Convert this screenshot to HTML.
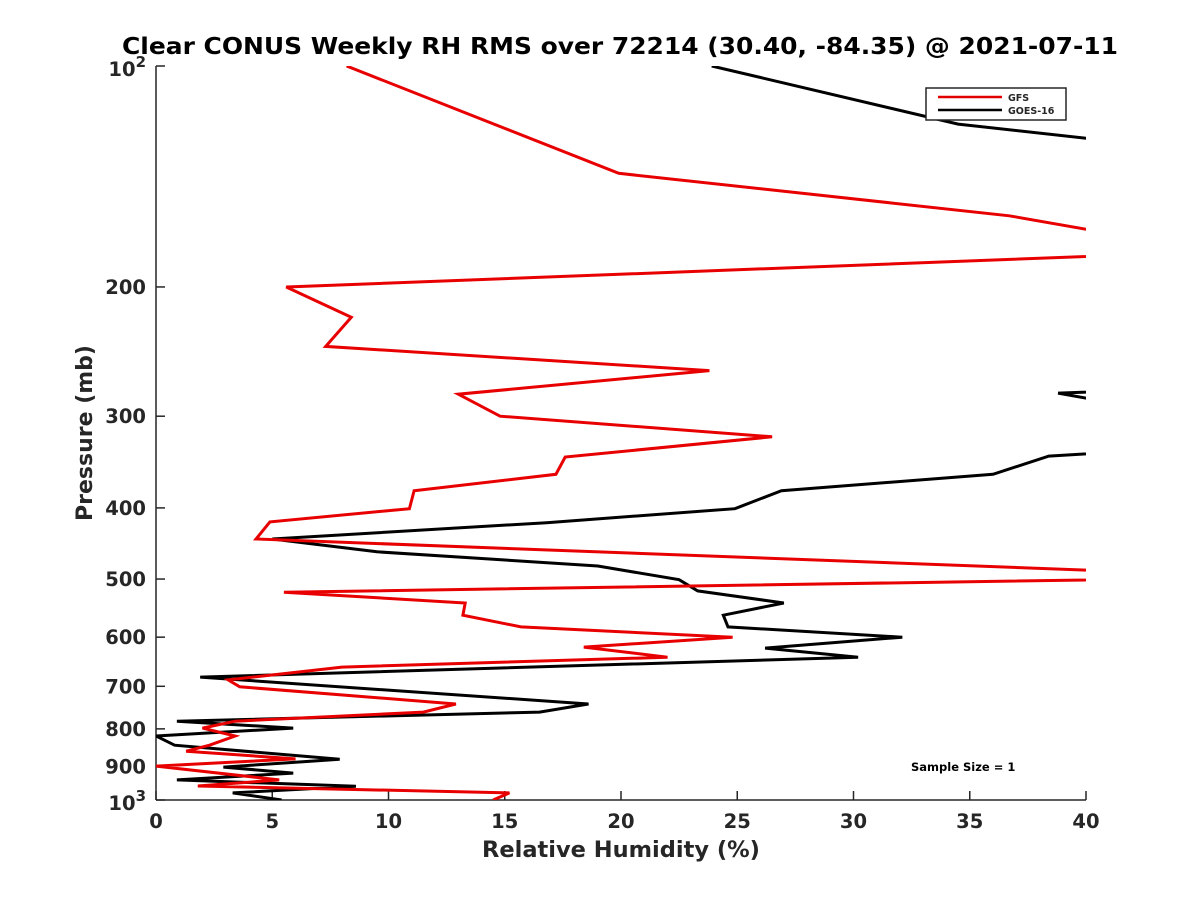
<!DOCTYPE html>
<html><head><meta charset="utf-8"><style>
body{margin:0;background:#fff;}
svg{display:block;font-family:"DejaVu Sans","Liberation Sans",sans-serif;font-weight:bold;}
</style></head><body>
<svg id="chart" width="1200" height="900" viewBox="0 0 1200 900">
<rect width="1200" height="900" fill="#fff"/>
<defs><clipPath id="clip"><rect x="156" y="66" width="930" height="734"/></clipPath></defs>
<text x="122" y="54" font-size="23" textLength="996" lengthAdjust="spacingAndGlyphs" fill="#000">Clear CONUS Weekly RH RMS over 72214 (30.40, -84.35) @ 2021-07-11</text>
<g id="axes"></g>
<g id="series" clip-path="url(#clip)"></g>
<text x="621" y="857" font-size="22.5" text-anchor="middle" fill="#262626">Relative Humidity (%)</text>
<text transform="translate(92,433) rotate(-90)" font-size="22" text-anchor="middle" fill="#262626">Pressure (mb)</text>
<g>
<rect x="926" y="88" width="140" height="32" fill="#fff" stroke="#262626" stroke-width="1.5"/>
<line x1="938" y1="97" x2="1002" y2="97" stroke="#e00000" stroke-width="2.5"/>
<text x="1008" y="101" font-size="9.5" fill="#262626">GFS</text>
<line x1="938" y1="110" x2="1002" y2="110" stroke="#000" stroke-width="2.5"/>
<text x="1008" y="114" font-size="9.5" fill="#262626">GOES-16</text>
</g>
<text x="911" y="771" font-size="11.5" fill="#000">Sample Size = 1</text>
</svg>
<script>
const xTicks=[0,5,10,15,20,25,30,35,40];
const yTicks=[100,200,300,400,500,600,700,800,900,1000];
const yTickLabels=["10|2","200","300","400","500","600","700","800","900","10|3"];
const gfsRH=[8.2,19.9,36.7,45.5,5.6,8.4,7.3,23.8,13.0,14.8,26.5,17.6,17.2,11.1,10.9,4.9,4.3,48,5.5,13.3,13.2,15.7,24.8,18.4,22.0,8.0,3.1,3.6,12.9,11.5,3.4,2.0,3.4,2.3,1.3,6.0,0,5.3,1.8,15.2,14.5];
const gfsP=[100,140,160,179,200,220,241,260,280,300,320,341,360,379,401,418,441,497,521,539,560,581,600,619,639,659,686,701,740,759,781,798,818,842,858,879,899,939,957,978,1000];
const goesRH=[23.9,34.5,50,50,38.8,50,38.4,36.0,26.9,24.9,16.8,5.0,9.5,19.0,22.5,23.3,27.0,24.4,24.6,32.1,26.2,30.2,1.9,18.6,16.5,0.9,5.9,0,0.8,7.9,2.9,5.9,0.9,8.6,3.3,5.4];
const goesP=[100,120,136,271,279,323,340,360,379,401,419,441,459,480,501,519,539,560,581,600,621,639,680,740,759,781,798,818,842,880,902,919,939,958,978,1000];
const X0=156,X1=1086,Y0=66,Y1=800;
const xs=v=>X0+v/40*(X1-X0);
const ys=p=>Y0+(Math.log10(p)-2)*(Y1-Y0);
const NS="http://www.w3.org/2000/svg";
function mk(t,a,parent){const e=document.createElementNS(NS,t);for(const k in a)e.setAttribute(k,a[k]);parent.appendChild(e);return e;}
const axes=document.getElementById('axes');
const ax=mk('line',{x1:X0,y1:Y1,x2:X1,y2:Y1,stroke:'#262626','stroke-width':1.5},axes);


const ay=mk('line',{x1:X0,y1:Y0,x2:X0,y2:Y1,stroke:'#262626','stroke-width':1.5},axes);


xTicks.forEach(v=>{
  const x=xs(v);
  mk('line',{x1:x,y1:Y1,x2:x,y2:Y1-9,stroke:'#262626','stroke-width':1.5},axes);
  const t=mk('text',{x:x,y:Y1+28,'font-size':19.5,'text-anchor':'middle',fill:'#262626'},axes);
  t.textContent=v;
  
  
});
yTicks.forEach((p,i)=>{
  const y=ys(p);
  mk('line',{x1:X0,y1:y,x2:X0+9,y2:y,stroke:'#262626','stroke-width':1.5},axes);
  const t=mk('text',{x:X0-10,y:y+7,'font-size':19.5,'text-anchor':'end',fill:'#262626'},axes);
  const parts=yTickLabels[i].split('|');
  if(parts.length>1){
    t.setAttribute('y',y+10);
    const a=mk('tspan',{},t);a.textContent=parts[0];
    const b=mk('tspan',{dy:-9,'font-size':15},t);b.textContent=parts[1];
  } else t.textContent=parts[0];
  
  
});
const ser=document.getElementById('series');
function line(vals,ps,color,name){
  const d=vals.map((v,i)=>(i?'L':'M')+xs(v).toFixed(1)+' '+ys(ps[i]).toFixed(1)).join(' ');
  const p=mk('path',{d:d,fill:'none',stroke:color,'stroke-width':3,'stroke-linejoin':'miter'},ser);
  
  
}
line(goesRH,goesP,'#000','goes16-line');
line(gfsRH,gfsP,'#e80000','gfs-line');
</script>
</body></html>
